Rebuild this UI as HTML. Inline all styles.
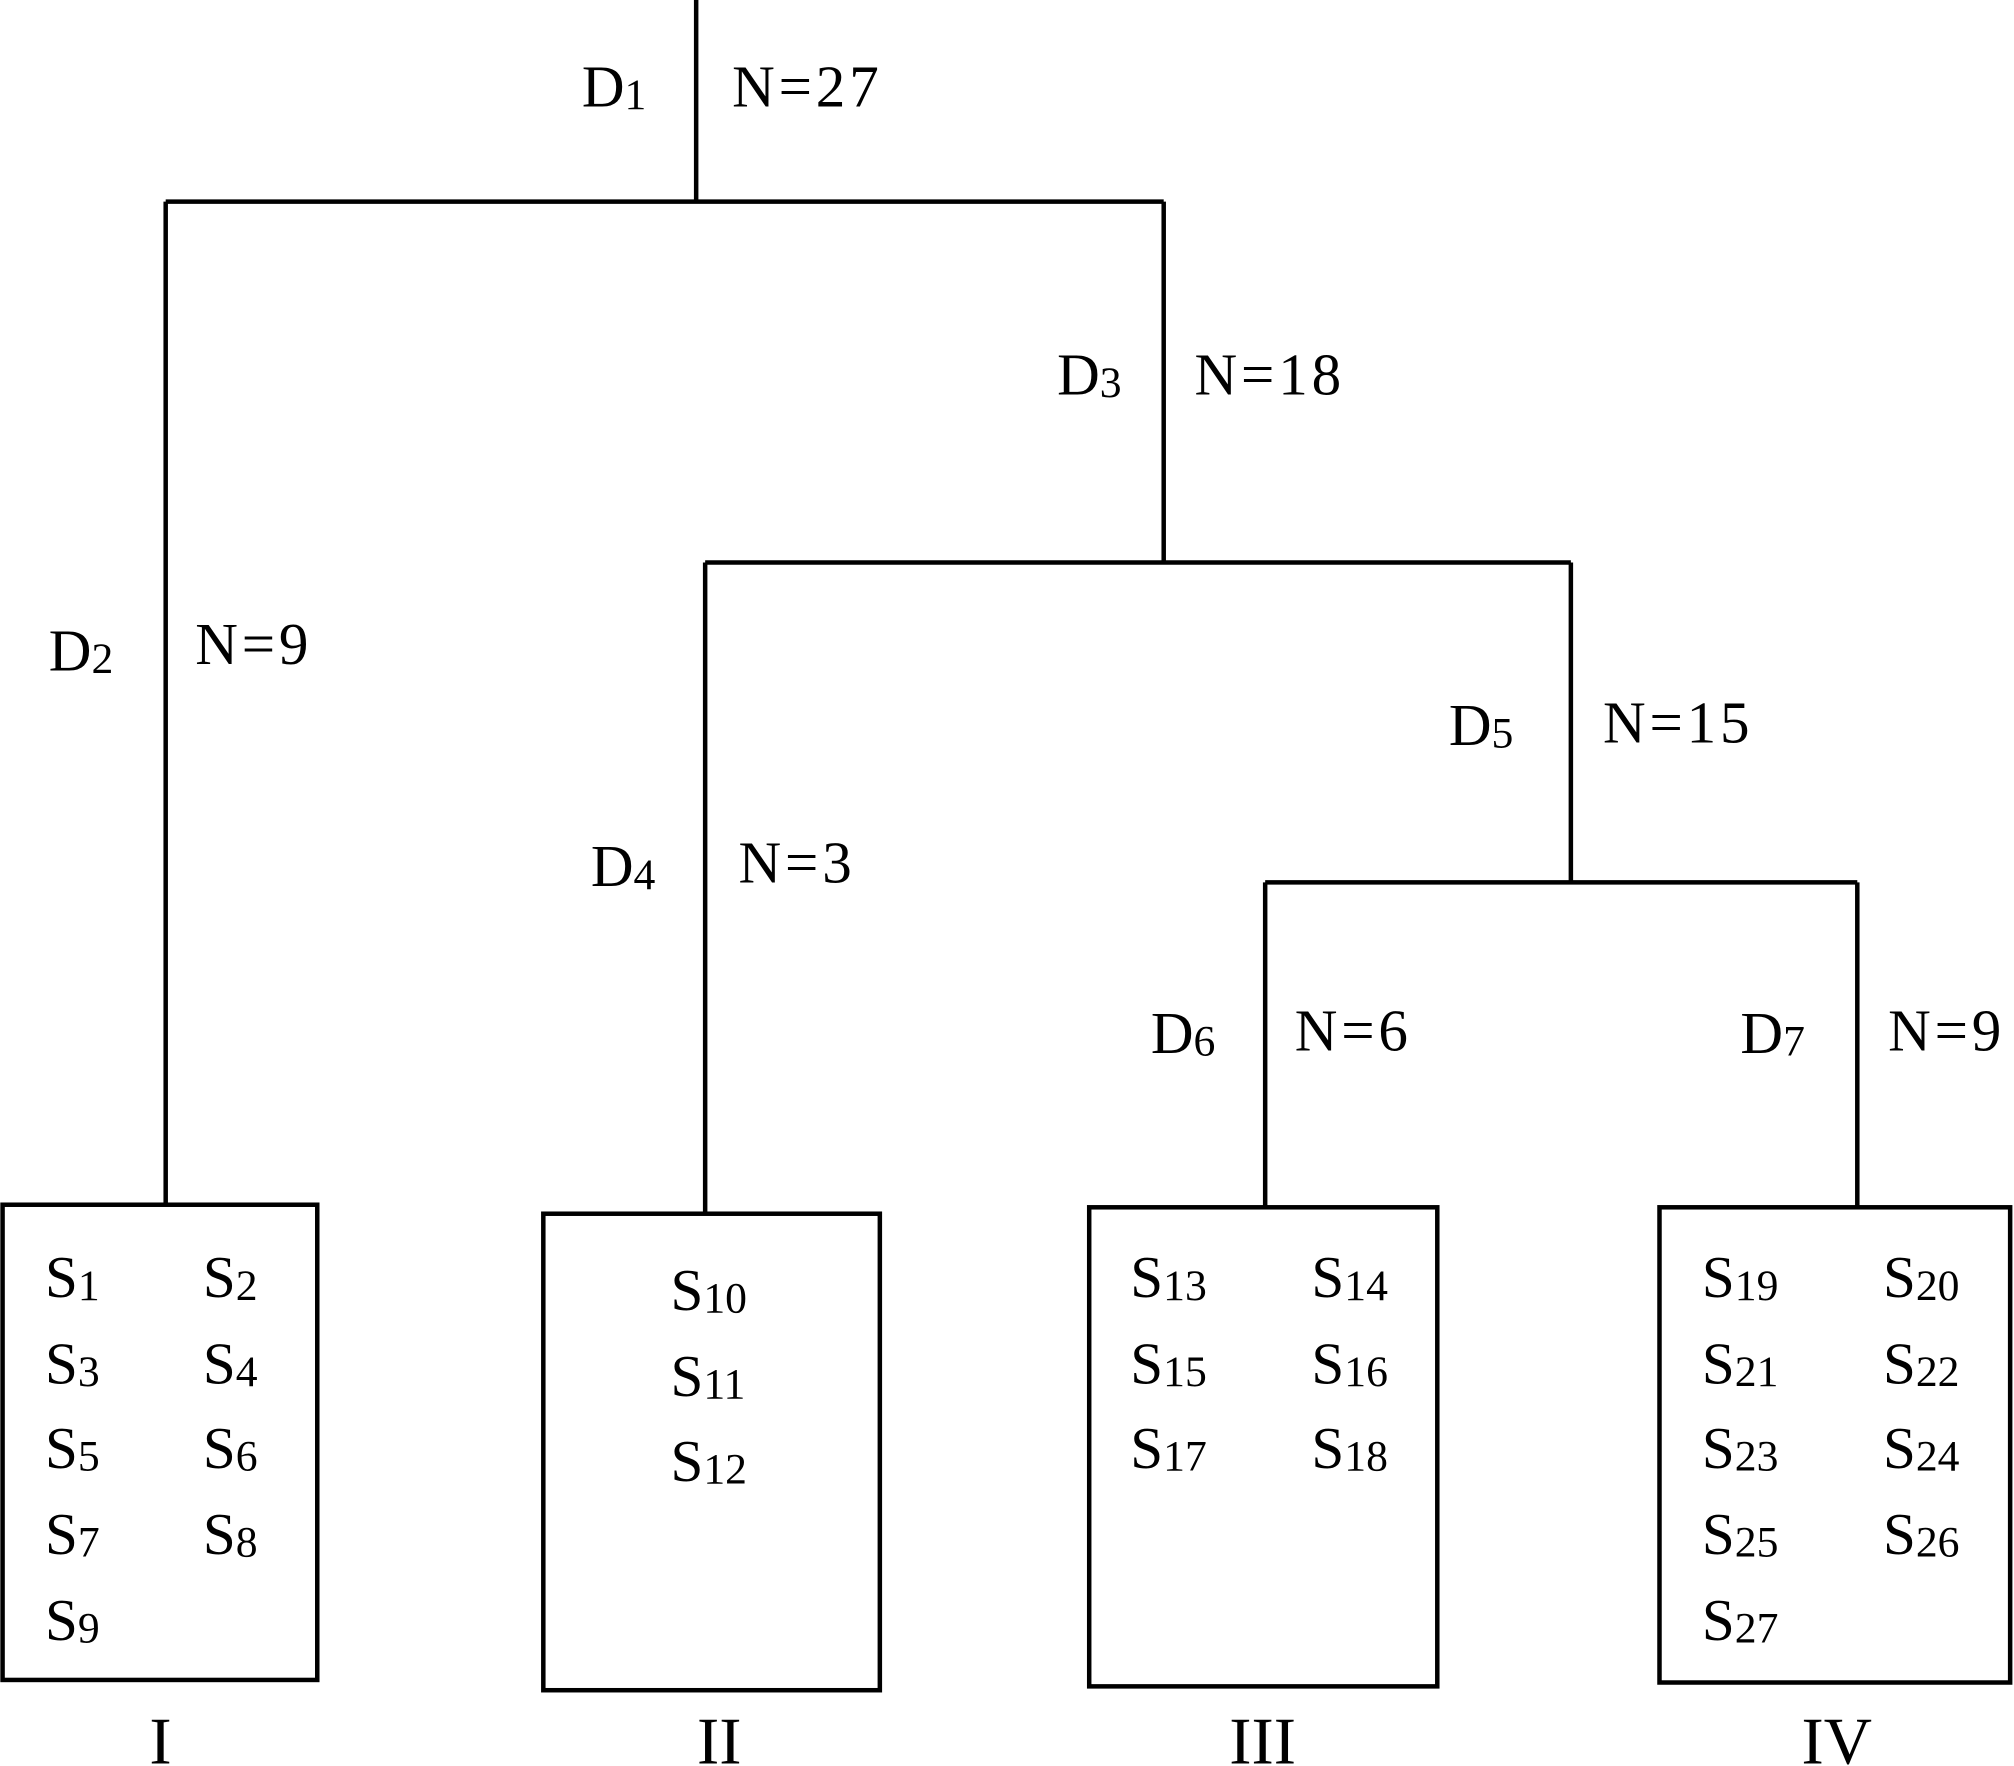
<!DOCTYPE html>
<html><head><meta charset="utf-8"><style>html,body{margin:0;padding:0;background:#fff}svg{display:block}</style></head>
<body>
<svg width="2014" height="1766" viewBox="0 0 1568 1375" preserveAspectRatio="none" xmlns="http://www.w3.org/2000/svg" font-family="Liberation Serif, serif" font-size="46" fill="#000">
<g stroke="#000" stroke-width="3.5" fill="none">
<line x1="542" y1="0" x2="542" y2="157"/>
<line x1="129" y1="157" x2="906" y2="157"/>
<line x1="129" y1="157" x2="129" y2="938"/>
<line x1="906" y1="157" x2="906" y2="438"/>
<line x1="549" y1="438" x2="1223" y2="438"/>
<line x1="549" y1="438" x2="549" y2="945"/>
<line x1="1223" y1="438" x2="1223" y2="687"/>
<line x1="985" y1="687" x2="1446" y2="687"/>
<line x1="985" y1="687" x2="985" y2="940"/>
<line x1="1446" y1="687" x2="1446" y2="940"/>
<rect x="2" y="938" width="245" height="370"/>
<rect x="423" y="945" width="262" height="371"/>
<rect x="848" y="940" width="271" height="373"/>
<rect x="1292" y="940" width="273" height="370"/>
</g>
<g>
<g letter-spacing="3">
<text x="570" y="83">N=27</text>
<text x="930" y="307">N=18</text>
<text x="152" y="517">N=9</text>
<text x="1248" y="578">N=15</text>
<text x="575" y="687">N=3</text>
<text x="1008" y="818">N=6</text>
<text x="1470" y="818">N=9</text>
</g>
<text x="453" y="83">D<tspan font-size="34" dy="2">1</tspan></text>
<text x="823" y="307">D<tspan font-size="34" dy="2">3</tspan></text>
<text x="38" y="522">D<tspan font-size="34" dy="2">2</tspan></text>
<text x="1128" y="580">D<tspan font-size="34" dy="2">5</tspan></text>
<text x="460" y="690">D<tspan font-size="34" dy="2">4</tspan></text>
<text x="896" y="820">D<tspan font-size="34" dy="2">6</tspan></text>
<text x="1355" y="820">D<tspan font-size="34" dy="2">7</tspan></text>

<g>
<text x="35" y="1010">S<tspan font-size="34" dy="2">1</tspan></text>
<text x="158" y="1010">S<tspan font-size="34" dy="2">2</tspan></text>
<text x="35" y="1077">S<tspan font-size="34" dy="2">3</tspan></text>
<text x="158" y="1077">S<tspan font-size="34" dy="2">4</tspan></text>
<text x="35" y="1143">S<tspan font-size="34" dy="2">5</tspan></text>
<text x="158" y="1143">S<tspan font-size="34" dy="2">6</tspan></text>
<text x="35" y="1210">S<tspan font-size="34" dy="2">7</tspan></text>
<text x="158" y="1210">S<tspan font-size="34" dy="2">8</tspan></text>
<text x="35" y="1277">S<tspan font-size="34" dy="2">9</tspan></text>

<text x="522" y="1020">S<tspan font-size="34" dy="2">10</tspan></text>
<text x="522" y="1087">S<tspan font-size="34" dy="2">11</tspan></text>
<text x="522" y="1153">S<tspan font-size="34" dy="2">12</tspan></text>

<text x="880" y="1010">S<tspan font-size="34" dy="2">13</tspan></text>
<text x="1021" y="1010">S<tspan font-size="34" dy="2">14</tspan></text>
<text x="880" y="1077">S<tspan font-size="34" dy="2">15</tspan></text>
<text x="1021" y="1077">S<tspan font-size="34" dy="2">16</tspan></text>
<text x="880" y="1143">S<tspan font-size="34" dy="2">17</tspan></text>
<text x="1021" y="1143">S<tspan font-size="34" dy="2">18</tspan></text>

<text x="1325" y="1010">S<tspan font-size="34" dy="2">19</tspan></text>
<text x="1466" y="1010">S<tspan font-size="34" dy="2">20</tspan></text>
<text x="1325" y="1077">S<tspan font-size="34" dy="2">21</tspan></text>
<text x="1466" y="1077">S<tspan font-size="34" dy="2">22</tspan></text>
<text x="1325" y="1143">S<tspan font-size="34" dy="2">23</tspan></text>
<text x="1466" y="1143">S<tspan font-size="34" dy="2">24</tspan></text>
<text x="1325" y="1210">S<tspan font-size="34" dy="2">25</tspan></text>
<text x="1466" y="1210">S<tspan font-size="34" dy="2">26</tspan></text>
<text x="1325" y="1277">S<tspan font-size="34" dy="2">27</tspan></text>
</g>

<g font-size="52" text-anchor="middle">
<text x="125" y="1373">I</text>
<text x="560" y="1373">II</text>
<text x="983" y="1373">III</text>
<text x="1430" y="1373">IV</text>
</g>
</g>
</svg>
</body></html>
